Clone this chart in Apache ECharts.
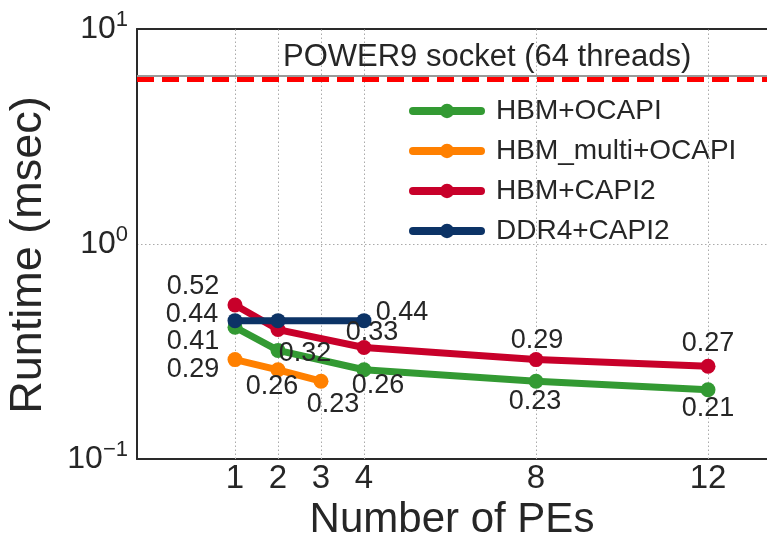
<!DOCTYPE html>
<html>
<head>
<meta charset="utf-8">
<script src="https://cdn.jsdelivr.net/npm/echarts@6/dist/echarts.min.js"></script>
<style>
  html, body { margin: 0; padding: 0; background: #fff; }
  #chart { width: 767px; height: 540px; }
</style>
</head>
<body>
<div id="chart"></div>
<script>
// x tick labels (number of PEs)
const peTicks = [1, 2, 3, 4, 8, 12];

// runtime (msec) per configuration
const hbmOcapiPEs = [1, 2, 4, 8, 12];
const hbmOcapi = [0.41, 0.32, 0.26, 0.23, 0.21];
const hbmMultiPEs = [1, 2, 3];
const hbmMulti = [0.29, 0.26, 0.23];
const hbmCapi2PEs = [1, 2, 4, 8, 12];
const hbmCapi2 = [0.52, 0.40, 0.33, 0.29, 0.27];
const ddr4PEs = [1, 2, 4];
const ddr4 = [0.44, 0.44, 0.44];
const power9Runtime = 5.85;

// label offsets (px) from each point, null = no label
const hbmOcapiLbl = [[-42, 14], [27, 3], [14, 16], [-1, 20], [0, 19]];
const hbmMultiLbl = [[-42, 10], [-6, 17], [12, 23]];
const hbmCapi2Lbl = [[-42, -19], null, [8, -15], [1, -19], [0, -23]];
const ddr4Lbl = [[-43, -6], null, [38, -8]];

const textColor = '#262626';
const font = 'Liberation Sans, Arial, sans-serif';

function points(xs, ys, offsets) {
  return xs.map((x, i) => {
    const off = offsets[i];
    return {
      value: [x, ys[i]],
      label: off
        ? { show: true, position: 'inside', offset: off, formatter: ys[i].toFixed(2) }
        : { show: false }
    };
  });
}

function lineSeries(name, color, data) {
  return {
    name: name,
    type: 'line',
    z: 5,
    data: data,
    symbol: 'circle',
    symbolSize: 15,
    itemStyle: { color: color },
    lineStyle: { color: color, width: 7, cap: 'round', join: 'round' },
    label: { color: textColor, fontSize: 27, fontFamily: font },
    emphasis: { disabled: true },
    animation: false
  };
}

function supLabel(v) {
  const e = Math.round(Math.log10(v));
  return '{b|10}{s|' + (e < 0 ? '\u2212' + (-e) : e) + '}';
}

const chart = echarts.init(document.getElementById('chart'));
chart.setOption({
  animation: false,
  grid: { left: 137, top: 29, right: 0, bottom: 81, containLabel: false, outerBoundsMode: 'none' },
  xAxis: [{
    type: 'value',
    min: -1.279,
    max: 13.372,
    name: 'Number of PEs',
    nameLocation: 'middle',
    nameGap: 38,
    nameTextStyle: { fontSize: 42, color: textColor, fontFamily: font },
    axisLine: { show: true, onZero: false, lineStyle: { color: '#2a2a2a', width: 2 } },
    axisTick: { show: false },
    splitLine: { show: false },
    axisLabel: {
      customValues: peTicks,
      fontSize: 33, color: textColor, fontFamily: font, margin: 3
    }
  }, {
    type: 'value',
    position: 'top',
    min: -1.279,
    max: 13.372,
    axisLine: { show: true, onZero: false, lineStyle: { color: '#2a2a2a', width: 2 } },
    axisTick: { show: false },
    axisLabel: { show: false },
    splitLine: { show: false }
  }],
  yAxis: {
    type: 'log',
    logBase: 10,
    min: 0.1,
    max: 10,
    name: 'Runtime (msec)',
    nameLocation: 'middle',
    nameGap: 86,
    nameTextStyle: { fontSize: 45, color: textColor, fontFamily: font, padding: [0, 22, 0, 0] },
    axisLine: { show: true, onZero: false, lineStyle: { color: '#2a2a2a', width: 2 } },
    axisTick: { show: false },
    splitLine: { show: true, lineStyle: { color: '#aaaaaa', width: 1, type: [1.5, 2.5] } },
    axisLabel: {
      margin: 9,
      formatter: supLabel,
      color: textColor,
      fontFamily: font,
      rich: {
        b: { fontSize: 32, color: textColor, fontFamily: font },
        s: { fontSize: 22, color: textColor, fontFamily: font, padding: [0, 0, 18, 0] }
      }
    }
  },
  legend: {
    data: ['HBM+OCAPI', 'HBM_multi+OCAPI', 'HBM+CAPI2', 'DDR4+CAPI2'],
    orient: 'vertical',
    left: 404,
    top: 92,
    itemWidth: 68,
    itemHeight: 18,
    itemGap: 12,
    textStyle: { fontSize: 28, color: textColor, fontFamily: font, padding: [0, 0, 0, 10] },
    lineStyle: { cap: 'round', width: 8 },
    selectedMode: false
  },
  graphic: [{
    type: 'text',
    left: 283,
    top: 42,
    z: 10,
    style: { text: 'POWER9 socket (64 threads)', fontSize: 31, fill: textColor, fontFamily: font }
  }],
  series: [
    {
      type: 'line',
      data: [],
      z: 1,
      silent: true,
      markLine: {
        silent: true,
        symbol: 'none',
        animation: false,
        label: { show: false },
        lineStyle: { color: '#aaaaaa', width: 1, type: [1.5, 2.5] },
        data: peTicks.map(v => ({ xAxis: v }))
      }
    },
    {
      type: 'line',
      data: [],
      z: 2,
      silent: true,
      markLine: {
        silent: true,
        symbol: 'none',
        animation: false,
        label: { show: false },
        data: [
          { yAxis: power9Runtime * 1.04, lineStyle: { color: '#9a9a9a', width: 2, type: 'solid' } },
          { yAxis: power9Runtime, lineStyle: { color: '#ff0000', width: 5, type: [17, 8] } }
        ]
      }
    },
    lineSeries('HBM+OCAPI', '#339a33', points(hbmOcapiPEs, hbmOcapi, hbmOcapiLbl)),
    lineSeries('HBM_multi+OCAPI', '#ff8000', points(hbmMultiPEs, hbmMulti, hbmMultiLbl)),
    lineSeries('HBM+CAPI2', '#c8002a', points(hbmCapi2PEs, hbmCapi2, hbmCapi2Lbl)),
    lineSeries('DDR4+CAPI2', '#0c3366', points(ddr4PEs, ddr4, ddr4Lbl))
  ]
});
</script>
</body>
</html>
